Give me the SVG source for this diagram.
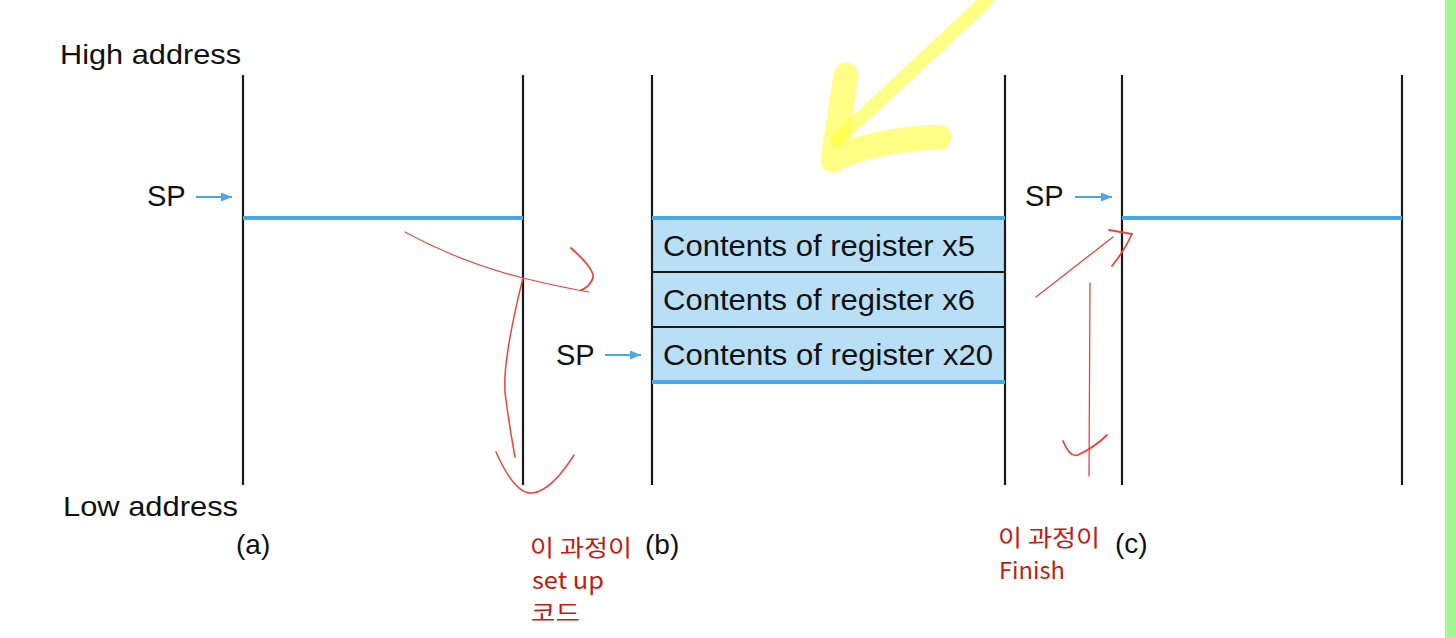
<svg xmlns="http://www.w3.org/2000/svg" width="1456" height="638" viewBox="0 0 1456 638">
<style>
.t{font-family:"Liberation Sans",Arial,sans-serif;fill:#111}
.k{font-family:"Noto Sans CJK KR","Noto Sans",sans-serif;fill:#c41a14;font-size:23px}
.v{stroke:#1a1a1a;stroke-width:2.2}
.b{stroke:#4aa8e8;stroke-width:4}
.sp{stroke:#4aa8e8;stroke-width:2;fill:none}
.r{stroke:#e8463c;fill:none;stroke-linecap:round}
.y{stroke:#ffff33;stroke-opacity:0.6;fill:none;stroke-linecap:round;stroke-linejoin:round}
</style>
<defs>
<marker id="ah" markerWidth="11" markerHeight="9" refX="11" refY="4.5" orient="auto" markerUnits="userSpaceOnUse">
<path d="M0,0 L11,4.5 L0,9 Z" fill="#4aa8e8"/>
</marker>
</defs>
<rect x="0" y="0" width="1456" height="638" fill="#ffffff"/>
<rect x="1445" y="0" width="11" height="638" fill="#a3f78e"/>

<g id="labels">
<text class="t" x="60" y="64" font-size="28" textLength="181" lengthAdjust="spacingAndGlyphs">High address</text>
<text class="t" x="63" y="516" font-size="28" textLength="175" lengthAdjust="spacingAndGlyphs">Low address</text>
<text class="t" x="236" y="554" font-size="28">(a)</text>
<text class="t" x="645" y="554" font-size="28">(b)</text>
<text class="t" x="1115" y="553" font-size="28">(c)</text>
</g>

<g id="stack-a">
<line class="v" x1="243" y1="75" x2="243" y2="485"/>
<line class="v" x1="523" y1="75" x2="523" y2="485"/>
<line class="b" x1="243" y1="218" x2="523" y2="218"/>
<text class="t" x="147" y="206" font-size="29">SP</text>
<line class="sp" x1="196" y1="197" x2="232" y2="197" marker-end="url(#ah)"/>
</g>

<g id="stack-b">
<rect x="652" y="218" width="353" height="164" fill="#b8dff6"/>
<line class="v" x1="652" y1="75" x2="652" y2="485"/>
<line class="v" x1="1005" y1="75" x2="1005" y2="485"/>
<line x1="652" y1="272" x2="1005" y2="272" stroke="#1a1a1a" stroke-width="1.8"/>
<line x1="652" y1="327" x2="1005" y2="327" stroke="#1a1a1a" stroke-width="1.8"/>
<line class="b" x1="652" y1="218" x2="1005" y2="218"/>
<line class="b" x1="652" y1="382" x2="1005" y2="382"/>
<text class="t" x="663" y="256" font-size="29" textLength="312" lengthAdjust="spacingAndGlyphs">Contents of register x5</text>
<text class="t" x="663" y="310" font-size="29" textLength="312" lengthAdjust="spacingAndGlyphs">Contents of register x6</text>
<text class="t" x="663" y="365" font-size="29" textLength="330" lengthAdjust="spacingAndGlyphs">Contents of register x20</text>
<text class="t" x="556" y="365" font-size="29">SP</text>
<line class="sp" x1="605" y1="355" x2="641" y2="355" marker-end="url(#ah)"/>
</g>

<g id="stack-c">
<line class="v" x1="1122" y1="75" x2="1122" y2="485"/>
<line class="v" x1="1402" y1="75" x2="1402" y2="485"/>
<line class="b" x1="1122" y1="218" x2="1402" y2="218"/>
<text class="t" x="1025" y="206" font-size="29">SP</text>
<line class="sp" x1="1075" y1="197" x2="1112" y2="197" marker-end="url(#ah)"/>
</g>

<g id="notes">
<text class="k" x="530" y="556" textLength="102" lengthAdjust="spacingAndGlyphs">이 과정이</text>
<text class="k" x="532" y="589" textLength="72" lengthAdjust="spacingAndGlyphs">set up</text>
<text class="k" x="531" y="621" textLength="49" lengthAdjust="spacingAndGlyphs">코드</text>
<text class="k" x="998" y="546" textLength="102" lengthAdjust="spacingAndGlyphs">이 과정이</text>
<text class="k" x="999" y="579" textLength="66" lengthAdjust="spacingAndGlyphs">Finish</text>
</g>

<g id="connectors">
<path class="r" stroke-width="1.2" d="M405,232 Q460,262 523,278 Q560,287 589,292"/>
<path class="r" stroke-width="1.8" d="M571,248 Q598,272 592,280 Q588,288 581,290"/>
<path class="r" stroke-width="1.5" d="M523,278 Q500,370 506,400 Q510,430 515,457"/>
<path class="r" stroke-width="1.5" d="M496,452 Q515,495 533,493 Q552,490 574,455"/>
<path class="r" stroke-width="1.3" d="M1036,297 L1113,237"/>
<path class="r" stroke-width="1.8" d="M1109,230 L1132,234 Q1125,250 1112,266"/>
<path class="r" stroke-width="1.3" d="M1090,283 L1089,476"/>
<path class="r" stroke-width="1.8" d="M1063,441 Q1070,458 1078,455 Q1095,447 1107,435"/>
<path class="y" stroke-width="14" d="M987,0 L837,140"/>
<path class="y" stroke-width="25" d="M846,75 L833,160 Q870,140 939,137"/>
</g>
</svg>
